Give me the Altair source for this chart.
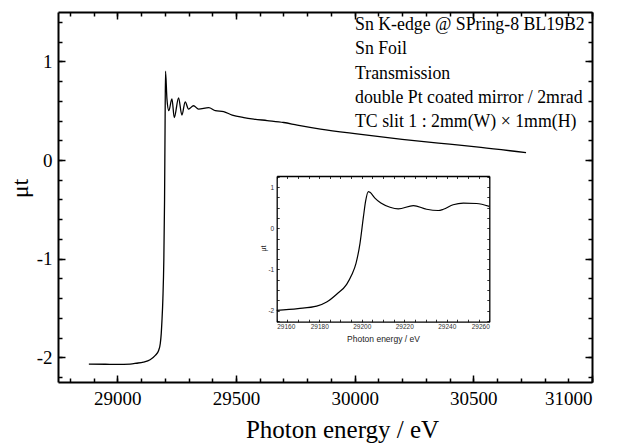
import altair as alt
import pandas as pd

# ---------------- data ----------------
main_energy = [28880, 28950, 29000, 29054, 29080, 29110, 29138, 29160, 29174, 29181,
               29185, 29188, 29192, 29196, 29199, 29201, 29203, 29209, 29217, 29230,
               29240, 29258, 29272, 29286, 29300, 29321, 29342, 29385, 29413, 29448,
               29484, 29533, 29575, 29631, 29701, 29758, 29856, 30018, 30200, 30400,
               30532, 30722]
main_mut = [-2.068, -2.07, -2.072, -2.068, -2.06, -2.048, -2.024, -1.98, -1.93, -1.86,
            -1.76, -1.63, -1.4, -1.0, -0.4, 0.3, 0.90, 0.62, 0.50, 0.62,
            0.43, 0.63, 0.455, 0.59, 0.516, 0.55, 0.516, 0.53, 0.50, 0.49,
            0.455, 0.43, 0.415, 0.40, 0.38, 0.354, 0.314, 0.263, 0.21, 0.16,
            0.128, 0.074]

inset_energy = [29160, 29170, 29178.8, 29183.5, 29188.2, 29192.9, 29195.3, 29197.3,
                29199.2, 29200.8, 29201.8, 29203.1, 29203.9, 29206.2, 29209, 29213.3,
                29217.2, 29224.3, 29230.5, 29236, 29238.4, 29243, 29247.8, 29254, 29260]
inset_mut = [-1.99, -1.95, -1.89, -1.79, -1.60, -1.36, -1.13, -0.85,
             -0.36, 0.28, 0.65, 0.89, 0.87, 0.73, 0.61, 0.51,
             0.47, 0.55, 0.46, 0.43, 0.46, 0.57, 0.61, 0.60, 0.53]

main_x_major = [29000, 29500, 30000, 30500, 31000]
main_x_minor = list(range(28800, 31001, 100))
main_y_major = [-2, -1, 0, 1]
main_y_minor = [round(-2.2 + 0.2 * i, 1) for i in range(19)]
inset_x_major = [29160, 29180, 29200, 29220, 29240, 29260]
inset_x_minor = list(range(29160, 29261, 5))
inset_y_major = [-2, -1, 0, 1]
inset_y_minor = [round(-2.25 + 0.25 * i, 2) for i in range(15)]

annotation_lines = [
    "Sn K-edge @ SPring-8 BL19B2",
    "Sn Foil",
    "Transmission",
    "double Pt coated mirror / 2mrad",
    "TC slit 1 : 2mm(W) \u00d7 1mm(H)",
]

main_df = pd.DataFrame({"energy": main_energy, "mut": main_mut})
inset_df = pd.DataFrame({"energy": inset_energy, "mut": inset_mut})

# ---------------- geometry ----------------
W, H = 534, 370
MAIN_X = [28750, 31000]
MAIN_Y = [-2.25, 1.5]
INSET_X = [29160, 29260]
INSET_Y = [-2.267, 1.267]
IX0, IX1 = 218.7, 431.3   # inset left/right in plot px
IY0, IY1 = 309.7, 164.0   # inset bottom/top in plot px

SERIF = "Liberation Serif"
SANS = "Liberation Sans"
base_ax = dict(grid=False, domainColor="black", tickColor="black", labelColor="black",
               titleColor="black")


def ax(**kw):
    d = dict(base_ax)
    d.update(kw)
    return alt.Axis(**d)


def tick_axis(orient, offset, values, size, width=1.5, domain=False, domain_width=2):
    return ax(orient=orient, offset=offset, values=values, tickSize=size, tickWidth=width,
              labels=False, domain=domain, domainWidth=domain_width, title="")


def layer(df, xaxis, yaxis, xs, ys, visible=False, sw=1.3, interp="monotone"):
    return alt.Chart(df).mark_line(
        color="black", strokeWidth=sw, strokeOpacity=1 if visible else 0,
        interpolate=interp, clip=False
    ).encode(
        x=alt.X("energy:Q", scale=xs, axis=xaxis),
        y=alt.Y("mut:Q", scale=ys, axis=yaxis),
    )


mxs = alt.Scale(domain=MAIN_X, nice=False, zero=False)
mys = alt.Scale(domain=MAIN_Y, nice=False, zero=False)
ixs = alt.Scale(domain=INSET_X, range=[IX0, IX1], nice=False, zero=False)
iys = alt.Scale(domain=INSET_Y, range=[IY0, IY1], nice=False, zero=False)

# main: labels + domain
m1 = layer(
    main_df,
    ax(orient="bottom", values=main_x_major, ticks=False, domainWidth=2,
       labelFont=SERIF, labelFontSize=19, labelPadding=7,
       labelExpr="'' + datum.value",
       title="Photon energy / eV", titleFont=SERIF, titleFontSize=25,
       titleFontWeight="normal", titleBaseline="alphabetic", titleX=284, titleY=55.5),
    ax(orient="left", values=main_y_major, ticks=False, domainWidth=2,
       labelFont=SERIF, labelFontSize=19, labelPadding=6,
       labelExpr="'' + datum.value",
       title="\u03bct", titleFont=SERIF, titleFontSize=24, titleFontWeight="normal",
       titleBaseline="alphabetic", titleX=-31, titleY=176),
    mxs, mys, visible=True, sw=1.3,
)
m2 = layer(main_df, tick_axis("top", -H, main_x_major, 7),
           tick_axis("right", -W, main_y_major, 7), mxs, mys)
m3 = layer(main_df, tick_axis("top", -H, main_x_minor, 4),
           tick_axis("right", -W, main_y_minor, 4), mxs, mys)
m4 = layer(main_df, tick_axis("bottom", -H, main_x_major, 7, domain=True),
           tick_axis("left", -W, main_y_major, 7, domain=True), mxs, mys)
m5 = layer(main_df, tick_axis("bottom", -H, main_x_minor, 4),
           tick_axis("left", -W, main_y_minor, 4), mxs, mys)

# inset
i1 = layer(
    inset_df,
    ax(orient="bottom", offset=-(H - IY0), values=inset_x_major, ticks=False,
       domainWidth=1.3, labelFont=SANS, labelFontSize=6.5, labelColor="#333333",
       labelPadding=2, labelExpr="'' + datum.value",
       title="Photon energy / eV", titleFont=SANS, titleFontSize=8.5,
       titleFontWeight="normal", titleColor="#222222", titleBaseline="alphabetic",
       titleX=325, titleY=20),
    ax(orient="left", offset=-IX0, values=inset_y_major, ticks=False, domainWidth=1.3,
       labelFont=SANS, labelFontSize=6.5, labelColor="#333333", labelPadding=3,
       labelExpr="'' + datum.value",
       title="\u03bct", titleFont=SANS, titleFontSize=7, titleFontWeight="normal",
       titleColor="#222222", titleBaseline="alphabetic", titleX=-11.5, titleY=236),
    ixs, iys, visible=True, sw=1.2,
)
i2 = layer(inset_df, tick_axis("top", -IY0, inset_x_minor, 2.5, width=0.8),
           tick_axis("right", -(W - IX0), inset_y_minor, 2.5, width=0.8), ixs, iys)
i3 = layer(inset_df,
           tick_axis("bottom", -(H - IY1), inset_x_minor, 2.5, width=0.8, domain=True,
                     domain_width=1.3),
           tick_axis("left", -IX1, inset_y_minor, 2.5, width=0.8, domain=True,
                     domain_width=1.3), ixs, iys)

note = alt.Chart(pd.DataFrame({"k": [0]})).mark_text(
    text=annotation_lines, align="left", baseline="alphabetic", font=SERIF,
    fontSize=17.8, lineHeight=24.3, color="black",
).encode(x=alt.value(297), y=alt.value(18))

chart = alt.layer(m1, m2, m3, m4, m5, i1, i2, i3, note).resolve_scale(
    x="independent", y="independent"
).resolve_axis(
    x="independent", y="independent"
).properties(
    width=W, height=H,
    autosize=alt.AutoSizeParams(type="none"),
    padding={"left": 50, "top": 4, "right": 20, "bottom": 61},
).configure_view(
    strokeOpacity=0
).configure_axis(
    labelFont=SERIF, titleFont=SERIF
).configure_text(font=SERIF)

chart.save("out.html", embed_options={"renderer": "svg", "actions": False})
